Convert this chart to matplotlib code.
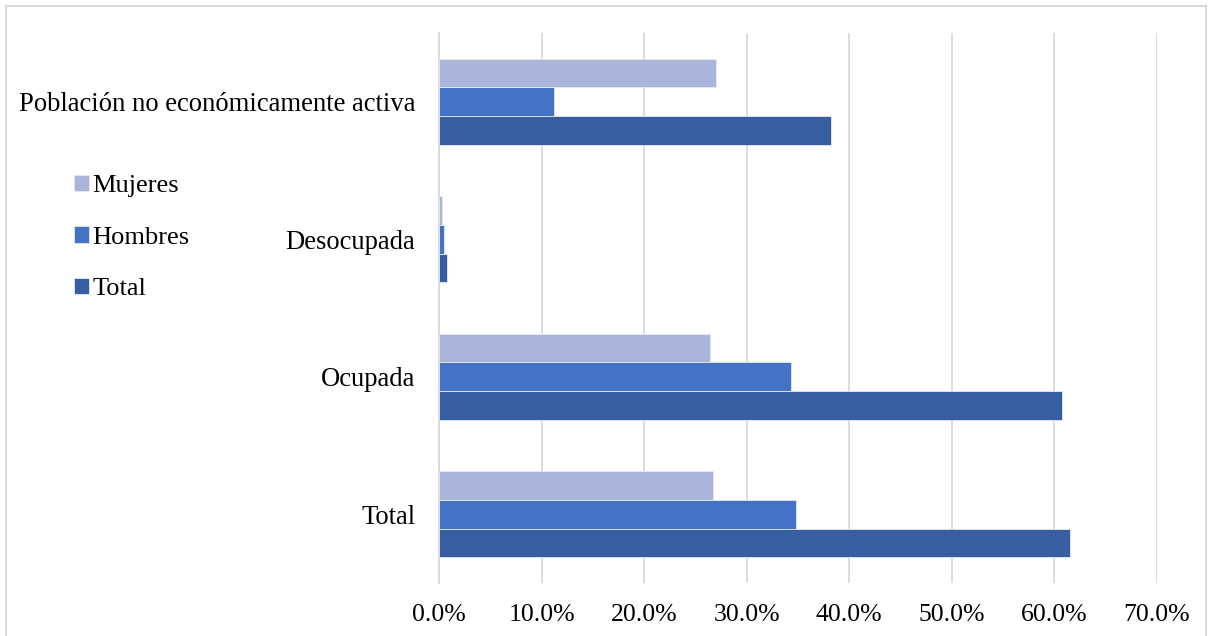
import matplotlib.pyplot as plt
import numpy as np
from matplotlib.patches import Rectangle
from matplotlib.ticker import FuncFormatter

plt.rcParams['font.family'] = ['Liberation Serif', 'DejaVu Serif']

categories = ["Total", "Ocupada", "Desocupada", "Población no económicamente activa"]
series_names = ["Total", "Hombres", "Mujeres"]
total_vals = [61.5, 60.7, 0.8, 38.2]
hombres_vals = [34.8, 34.3, 0.5, 11.2]
mujeres_vals = [26.7, 26.4, 0.3, 27.0]
x_ticks = [0, 10, 20, 30, 40, 50, 60, 70]

colors = {"Total": "#365EA0", "Hombres": "#4472C4", "Mujeres": "#A9B5DA"}
values = {"Total": total_vals, "Hombres": hombres_vals, "Mujeres": mujeres_vals}

fig = plt.figure(figsize=(12.08, 6.36), dpi=100)
ax = fig.add_axes([439 / 1208, 53 / 636, 718 / 1208, 550 / 636])

y = np.arange(len(categories))
bar_h = 0.625 / 3
handles = {}
for i, name in enumerate(series_names):
    offs = (i - 1) * bar_h
    handles[name] = ax.barh(y + offs, values[name], height=bar_h,
                            color=colors[name], edgecolor="#E4E9F4",
                            linewidth=0.6, zorder=3)

ax.set_xlim(0, 70)
ax.set_ylim(-0.5, len(categories) - 0.5)
ax.set_xticks(x_ticks)
ax.xaxis.set_major_formatter(FuncFormatter(lambda v, p: f"{v:.1f}%"))
ax.set_yticks(y)
ax.set_yticklabels(categories)
ax.grid(axis="x", color="#D9D9D9", linewidth=1.3, zorder=0)
ax.grid(axis="y", visible=False)
for s in ["top", "right", "bottom"]:
    ax.spines[s].set_visible(False)
ax.spines["left"].set_color("#D9D9D9")
ax.spines["left"].set_linewidth(1.3)
ax.tick_params(axis="both", length=0, colors="black")
ax.tick_params(axis="x", pad=15, labelsize=18.5)
ax.tick_params(axis="y", pad=17, labelsize=19.2)

leg = fig.legend([handles[n] for n in ["Mujeres", "Hombres", "Total"]],
                 ["Mujeres", "Hombres", "Total"],
                 loc="upper left", bbox_to_anchor=(74 / 1208, 1 - 175 / 636),
                 frameon=False, fontsize=19, handlelength=0.57,
                 handleheight=0.57, handletextpad=0.12, labelspacing=1.1,
                 borderpad=0, borderaxespad=0)

fig.patches.append(Rectangle((6 / 1208, -0.05), 1200 / 1208, 1.05 - 6 / 636,
                             transform=fig.transFigure, fill=False,
                             edgecolor="#D9D9D9", linewidth=1.5))

fig.savefig("out.png", dpi=100)
